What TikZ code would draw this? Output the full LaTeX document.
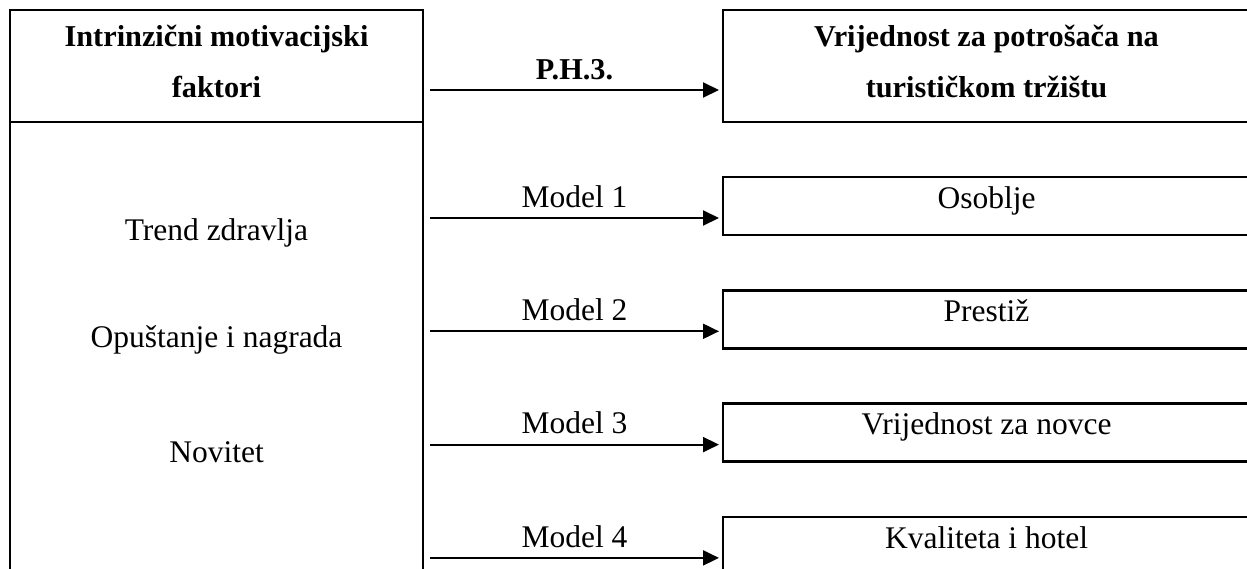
\documentclass[tikz,border=0pt]{standalone}
\usepackage{fontspec}
\setmainfont{Liberation Serif}
\usepackage{tikz}
\usetikzlibrary{calc}
\usetikzlibrary{arrows.meta}
\usetikzlibrary{positioning}

\newcommand{\bodyfont}{\fontsize{31.5}{51}\selectfont}
\newcommand{\headfont}{\fontsize{30.3}{51}\selectfont\bfseries}

\tikzset{
  frame/.style={draw=black, line width=2.5pt, rectangle, inner sep=0pt, outer sep=0pt},
  headbox/.style={frame, align=center, font=\headfont, text depth=10pt},
  modelbox/.style={frame, minimum width=527pt, minimum height=58pt, anchor=north west, text depth=.25em, text height=.7em},
  arr/.style={black, line width=2pt, -{Triangle[length=16pt, width=15pt]}}
}

\begin{document}
\begin{tikzpicture}[x=1pt, y=-1pt, font=\bodyfont]
\useasboundingbox (0,0) rectangle (1247,568);
\clip (0,0) rectangle (1247,568);

\node[headbox, minimum width=413pt, minimum height=112pt] (lhead) at (216.5,66) {Intrinzični motivacijski\\faktori};
\node[frame, minimum width=413pt, minimum height=500pt, anchor=north] (lbody) at (lhead.south) {};

\node (f1) at (216.5,233) {Trend zdravlja};
\node (f2) at (216.5,340) {Opuštanje i nagrada};
\node (f3) at (216.5,452) {Novitet};

\node[headbox, minimum width=527pt, minimum height=112pt, anchor=north west] (rhead) at (723,10) {Vrijednost za potrošača na\\turističkom tržištu};
\coordinate (a0) at ([xshift=-4pt, yshift=32pt]rhead.south west);
\draw[arr] ([xshift=7pt]lbody.east |- a0) -- (a0) node[midway, above=6pt, font=\headfont] {P.H.3.};

\foreach \i/\t in {1/Osoblje, 2/Prestiž, 3/Vrijednost za novce, 4/Kvaliteta i hotel}{
  \node[modelbox] (m\i) at (723, {177+113.3*(\i-1)}) {\t};
  \coordinate (a\i) at ([xshift=-4pt, yshift=17pt]m\i.south west);
  \draw[arr] ([xshift=7pt]lbody.east |- a\i) -- (a\i) node[midway, above=6pt] {Model \i};
}
\end{tikzpicture}
\end{document}
